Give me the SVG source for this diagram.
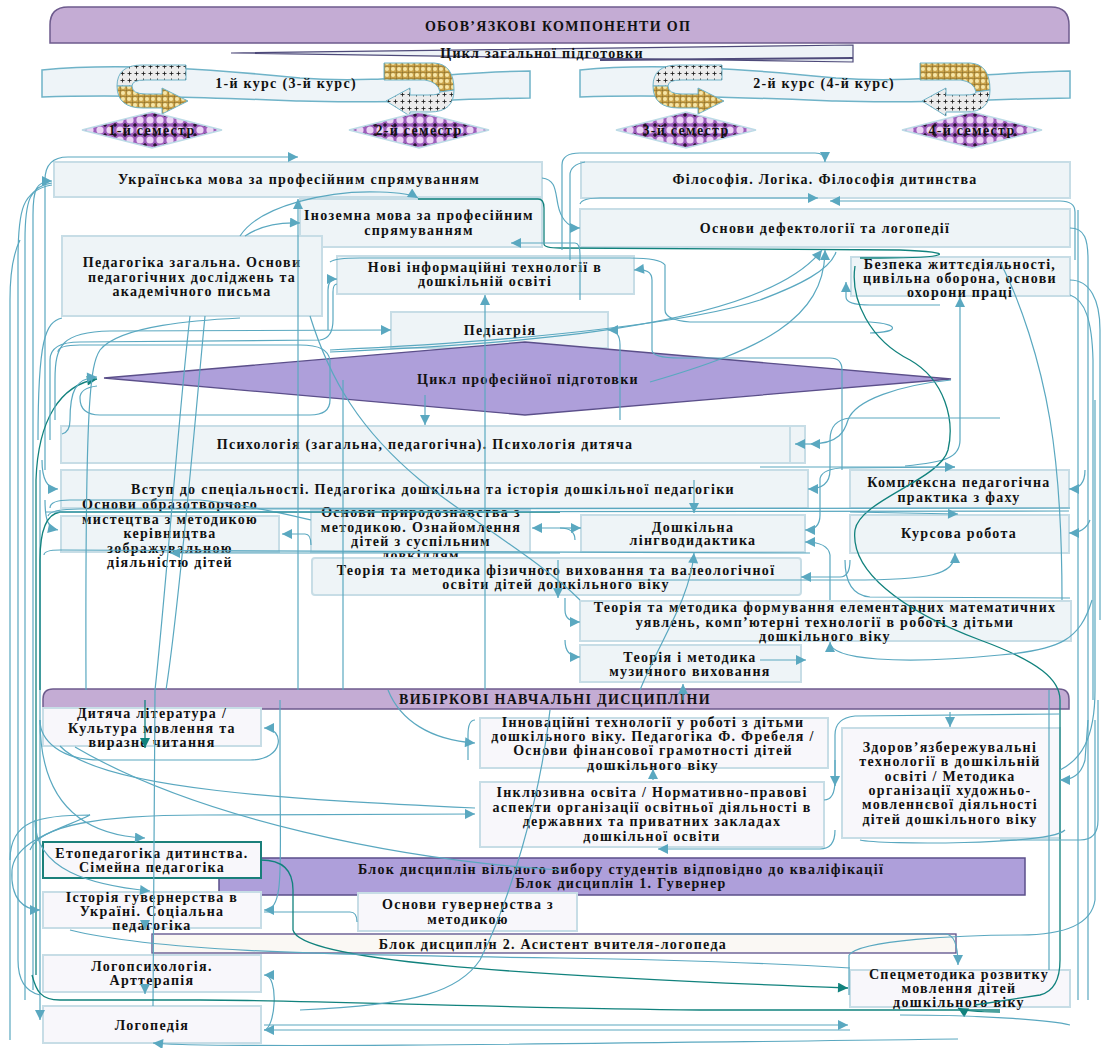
<svg xmlns="http://www.w3.org/2000/svg" width="1104" height="1048" viewBox="0 0 1104 1048">
<defs>
<style>
.t{font-family:"Liberation Serif","Times New Roman",serif;font-weight:bold;font-size:14px;fill:#111;text-anchor:middle;letter-spacing:1.3px}
.n{fill:#eef4f7;stroke:#c7dde6;stroke-width:2}
.e{fill:#f8f7fb;stroke:#c7dde6;stroke-width:2}
.c{fill:none;stroke:#5aa8c0;stroke-width:1.2}
.k{fill:none;stroke:#11827d;stroke-width:1.3}
.ae{marker-end:url(#a)}
.as{marker-start:url(#a)}
.ke{marker-end:url(#b)}
.ks{marker-start:url(#b)}
.rb{fill:#eef4f8;stroke:#6fb3c8;stroke-width:1.5}
.sm{fill:url(#pd);stroke:#bcdbe6;stroke-width:1.5}
</style>
<marker id="a" viewBox="0 0 10 10" refX="10" refY="5" markerUnits="userSpaceOnUse" markerWidth="12" markerHeight="10" orient="auto-start-reverse"><path d="M0,0 L10,5 L0,10 Z" fill="#5aa8c0"/></marker>
<marker id="b" viewBox="0 0 10 10" refX="10" refY="5" markerUnits="userSpaceOnUse" markerWidth="12" markerHeight="10" orient="auto-start-reverse"><path d="M0,0 L10,5 L0,10 Z" fill="#11827d"/></marker>
<pattern id="pd" width="10" height="10" patternUnits="userSpaceOnUse"><rect width="10" height="10" fill="#9d5cbb"/><circle cx="0" cy="0" r="3.6" fill="#ecd6f4"/><circle cx="10" cy="0" r="3.6" fill="#ecd6f4"/><circle cx="0" cy="10" r="3.6" fill="#ecd6f4"/><circle cx="10" cy="10" r="3.6" fill="#ecd6f4"/><path d="M3,5H7M5,3V7" stroke="#000" stroke-width="1"/></pattern>
<pattern id="py" width="6" height="6" patternUnits="userSpaceOnUse"><rect width="6" height="6" fill="#c9a24a"/><circle cx="3" cy="3" r="2" fill="#f6e6a8"/><path d="M0,0H6M0,0V6" stroke="#5a4514" stroke-width="0.6"/></pattern>
<pattern id="pg" width="7" height="7" patternUnits="userSpaceOnUse"><rect width="7" height="7" fill="#ececec"/><path d="M1.5,3.5H5.5M3.5,1.5V5.5" stroke="#111" stroke-width="0.8"/></pattern>
</defs>
<rect width="1104" height="1048" fill="#ffffff"/>

<g id="title">
<path d="M50,43 L50,25 Q50,7 68,7 L1051,7 Q1069,7 1069,25 L1069,43 Z" fill="#c4acd4" stroke="#6d5b8d" stroke-width="1.5"/>
<text class="t" x="558" y="31">ОБОВ’ЯЗКОВІ КОМПОНЕНТИ ОП</text>
</g>

<g id="cycle-general">
<path d="M231,53 L853,45 L853,62 Z" fill="#eef3f7" stroke="#4e4a7a" stroke-width="1.2"/>
<path d="M600,60 L853,58" stroke="#4e4a7a" stroke-width="2"/>
<text class="t" x="542" y="58">Цикл загальної підготовки</text>
</g>

<g id="course1">
<path class="rb" d="M42,70 C120,62 220,70 300,78 C380,84 450,72 530,71 L530,98 C450,99 390,104 300,101 C220,98 120,94 42,97 Z"/>
<path d="M186,65 L142,65 Q117,65 117,86 L132,86 Q132,80 145,80 L186,80 Z" fill="url(#pg)" stroke="#6fb3c8"/>
<path d="M117,86 Q117,108 143,108 L162,108 L162,114 L188,101 L162,88 L162,94 L146,94 Q132,94 132,86 Z" fill="url(#py)" stroke="#6fb3c8"/>
<path d="M384,63 L434,63 Q454,64 454,90 L440,92 Q438,82 425,80 L384,80 Z" fill="url(#py)" stroke="#6fb3c8"/>
<path d="M454,90 Q454,112 430,112 L410,112 L410,116 L386,101 L410,88 L410,95 L428,95 Q440,95 440,92 Z" fill="url(#pg)" stroke="#6fb3c8"/>
<text class="t" x="286" y="88">1-й курс (3-й курс)</text>
</g>
<g id="course2" transform="translate(536,0)">
<path class="rb" d="M44,70 C120,62 220,70 300,78 C380,84 450,72 534,71 L534,98 C450,99 390,104 300,101 C220,98 120,94 44,97 Z"/>
<path d="M186,65 L142,65 Q117,65 117,86 L132,86 Q132,80 145,80 L186,80 Z" fill="url(#pg)" stroke="#6fb3c8"/>
<path d="M117,86 Q117,108 143,108 L162,108 L162,114 L188,101 L162,88 L162,94 L146,94 Q132,94 132,86 Z" fill="url(#py)" stroke="#6fb3c8"/>
<path d="M384,63 L434,63 Q454,64 454,90 L440,92 Q438,82 425,80 L384,80 Z" fill="url(#py)" stroke="#6fb3c8"/>
<path d="M454,90 Q454,112 430,112 L410,112 L410,116 L386,101 L410,88 L410,95 L428,95 Q440,95 440,92 Z" fill="url(#pg)" stroke="#6fb3c8"/>
<text class="t" x="288" y="88">2-й курс (4-й курс)</text>
</g>

<g id="sem1"><path class="sm" d="M82,130 L152,112 L222,130 L152,148 Z"/><text class="t" x="152" y="135">1-й семестр</text></g>
<g id="sem2"><path class="sm" d="M349,130 L419,112 L489,130 L419,148 Z"/><text class="t" x="419" y="135">2-й семестр</text></g>
<g id="sem3"><path class="sm" d="M616,130 L686,112 L756,130 L686,148 Z"/><text class="t" x="686" y="135">3-й семестр</text></g>
<g id="sem4"><path class="sm" d="M902,130 L972,112 L1042,130 L972,148 Z"/><text class="t" x="972" y="135">4-й семестр</text></g>

<g id="ukr"><rect class="n" x="54" y="162" width="488" height="35"/><text class="t" x="299" y="184">Українська мова за професійним спрямуванням</text></g>
<g id="fil"><rect class="n" x="581" y="162" width="489" height="36"/><text class="t" x="825" y="184">Філософія. Логіка. Філософія дитинства</text></g>
<g id="inoz"><rect class="n" x="300" y="199" width="242" height="48"/><text class="t" x="419" y="220">Іноземна мова за професійним</text><text class="t" x="419" y="235">спрямуванням</text></g>
<g id="defekt"><rect class="n" x="580" y="209" width="490" height="38"/><text class="t" x="825" y="233">Основи дефектології та логопедії</text></g>
<g id="pedzag"><rect class="n" x="62" y="236" width="260" height="80"/><text class="t" x="192" y="267">Педагогіка загальна. Основи</text><text class="t" x="192" y="282">педагогічних досліджень та</text><text class="t" x="192" y="296">академічного письма</text></g>
<g id="novi"><rect class="n" x="337" y="256" width="297" height="38"/><text class="t" x="485" y="272">Нові інформаційні технології в</text><text class="t" x="485" y="286">дошкільній освіті</text></g>
<g id="bezp"><rect class="n" x="851" y="257" width="219" height="39"/><text class="t" x="960" y="269">Безпека життєдіяльності,</text><text class="t" x="960" y="283">цивільна оборона, основи</text><text class="t" x="960" y="297">охорони праці</text></g>
<g id="pediatr"><rect class="n" x="391" y="312" width="217" height="36"/><text class="t" x="500" y="335">Педіатрія</text></g>

<g id="cycle-prof">
<path d="M104,378 L525,342 L951,379 L525,415 Z" fill="#ae9fda" stroke="#5b4f8a" stroke-width="1.3"/>
<text class="t" x="528" y="384">Цикл професійної підготовки</text>
</g>

<g id="psych"><rect class="n" x="61" y="426" width="744" height="37"/><line x1="790" y1="427" x2="790" y2="462" stroke="#c7dde6" stroke-width="2"/><text class="t" x="425" y="449">Психологія (загальна, педагогічна). Психологія дитяча</text></g>
<g id="vstup"><rect class="n" x="61" y="470" width="747" height="38"/><text class="t" x="433" y="494">Вступ до спеціальності. Педагогіка дошкільна та історія дошкільної педагогіки</text></g>
<g id="obraz"><rect class="n" x="61" y="516" width="218" height="36"/><text class="t" x="170" y="509">Основи образотворчого</text><text class="t" x="170" y="524">мистецтва з методикою</text><text class="t" x="170" y="538">керівництва</text><text class="t" x="170" y="553">зображувальною</text><text class="t" x="170" y="567">діяльністю дітей</text></g>
<g id="pryr"><rect class="n" x="311" y="510" width="219" height="42"/><text class="t" x="421" y="517">Основи природознавства з</text><text class="t" x="421" y="532">методикою. Ознайомлення</text><text class="t" x="421" y="546">дітей з суспільним</text><text class="t" x="421" y="560">довкіллям</text></g>
<g id="lingvo"><rect class="n" x="581" y="515" width="224" height="37"/><text class="t" x="693" y="532">Дошкільна</text><text class="t" x="693" y="545">лінгводидактика</text></g>
<g id="kompl"><rect class="n" x="850" y="470" width="219" height="38"/><text class="t" x="959" y="487">Комплексна педагогічна</text><text class="t" x="959" y="502">практика з фаху</text></g>
<g id="kurs"><rect class="n" x="850" y="515" width="219" height="38"/><text class="t" x="959" y="538">Курсова робота</text></g>
<g id="fiz"><rect class="n" x="312" y="558" width="489" height="37" rx="3"/><text class="t" x="556" y="575">Теорія та методика фізичного виховання та валеологічної</text><text class="t" x="556" y="589">освіти дітей дошкільного віку</text></g>
<g id="femu"><rect class="n" x="580" y="601" width="491" height="40"/><text class="t" x="825" y="612">Теорія та методика формування елементарних математичних</text><text class="t" x="825" y="627">уявлень, комп’ютерні технології в роботі з дітьми</text><text class="t" x="825" y="641">дошкільного віку</text></g>
<g id="muz"><rect class="n" x="580" y="645" width="221" height="37"/><text class="t" x="690" y="662">Теорія і методика</text><text class="t" x="690" y="676">музичного виховання</text></g>

<g id="vybir">
<path d="M43,709 L43,699 Q43,689 53,689 L1059,689 Q1069,689 1069,699 L1069,709 Z" fill="#c4acd4" stroke="#6d5b8d" stroke-width="1.5"/>
<text class="t" x="555" y="704">ВИБІРКОВІ НАВЧАЛЬНІ ДИСЦИПЛІНИ</text>
</g>
<g id="dytlit"><rect class="e" x="43" y="708" width="218" height="38"/><text class="t" x="152" y="718">Дитяча література /</text><text class="t" x="152" y="733">Культура мовлення та</text><text class="t" x="152" y="747">виразне читання</text></g>
<g id="innov"><rect class="e" x="480" y="718" width="348" height="50"/><text class="t" x="653" y="727">Інноваційні технології у роботі з дітьми</text><text class="t" x="653" y="741">дошкільного віку. Педагогіка Ф. Фребеля /</text><text class="t" x="653" y="755">Основи фінансової грамотності дітей</text><text class="t" x="653" y="770">дошкільного віку</text></g>
<g id="inkl"><rect class="e" x="480" y="782" width="344" height="65"/><text class="t" x="652" y="797">Інклюзивна освіта / Нормативно-правові</text><text class="t" x="652" y="812">аспекти організації освітньої діяльності в</text><text class="t" x="652" y="826">державних та приватних закладах</text><text class="t" x="652" y="841">дошкільної освіти</text></g>
<g id="zdor"><rect class="e" x="842" y="728" width="218" height="110"/><text class="t" x="950" y="752">Здоров’язбережувальні</text><text class="t" x="950" y="766">технології в дошкільній</text><text class="t" x="950" y="781">освіті / Методика</text><text class="t" x="950" y="795">організації художньо-</text><text class="t" x="950" y="809">мовленнєвої діяльності</text><text class="t" x="950" y="824">дітей дошкільного віку</text></g>

<g id="blok1">
<rect x="219" y="858" width="806" height="37" fill="#ae9fda" stroke="#5b4f8a" stroke-width="1.5"/>
<text class="t" x="621" y="874">Блок дисциплін вільного вибору студентів відповідно до кваліфікації</text>
<text class="t" x="621" y="888">Блок дисциплін 1. Гувернер</text>
</g>
<g id="etoped"><rect x="43" y="842" width="218" height="36" fill="#f8f7fb" stroke="#1a7f7a" stroke-width="2"/><text class="t" x="152" y="858">Етопедагогіка дитинства.</text><text class="t" x="152" y="872">Сімейна педагогіка</text></g>
<g id="istor"><rect class="e" x="43" y="892" width="218" height="36"/><text class="t" x="152" y="902">Історія гувернерства в</text><text class="t" x="152" y="916">Україні. Соціальна</text><text class="t" x="152" y="930">педагогіка</text></g>
<g id="osnguv"><rect class="e" x="358" y="893" width="219" height="38"/><text class="t" x="468" y="909">Основи гувернерства з</text><text class="t" x="468" y="924">методикою</text></g>
<g id="blok2"><rect x="152" y="934" width="804" height="19" fill="#faf8f4" stroke="#5b4f8a" stroke-width="1.3"/><text class="t" x="553" y="949">Блок дисциплін 2. Асистент вчителя-логопеда</text></g>
<g id="logops"><rect class="e" x="43" y="955" width="218" height="37"/><text class="t" x="152" y="971">Логопсихологія.</text><text class="t" x="152" y="985">Арттерапія</text></g>
<g id="logoped"><rect class="e" x="43" y="1006" width="218" height="37"/><text class="t" x="152" y="1030">Логопедія</text></g>
<g id="specmet"><rect class="e" x="850" y="970" width="220" height="37"/><text class="t" x="959" y="979">Спецметодика розвитку</text><text class="t" x="959" y="993">мовлення дітей</text><text class="t" x="959" y="1007">дошкільного віку</text></g>

<g id="connectors">
<!-- left bundle -->
<path class="c as" d="M298,157 L68,157 Q45,157 45,180 L45,470"/>
<path class="c as" d="M52,181 C36,181 33,190 33,215 L33,990"/>
<path class="c" d="M52,183 C30,186 25,200 25,240 L25,1000"/>
<path class="c" d="M52,185 C22,190 18,210 18,260 L18,960 Q18,990 40,995"/>
<path class="c" d="M10,1040 L10,300 Q10,260 20,240"/>
<path class="c ae" d="M40,470 L40,1020"/>
<path class="k ks" d="M97,379 C60,385 38,420 36,480 L36,975"/>
<path class="c as" d="M97,377 C75,378 70,392 70,420 Q70,432 62,434"/>
<path class="c" d="M62,318 C45,322 38,340 38,440"/>
<path class="c" d="M240,318 C200,320 120,325 100,350 C90,365 85,400 86,690"/>
<path class="c as" d="M391,330 L110,331 C62,332 55,345 55,380 L55,420"/>
<path class="c" d="M50,440 L50,360 Q50,342 80,342 L320,340 Q333,338 333,320 L333,292 Q333,284 337,284"/>
<path class="c as" d="M337,279 Q328,279 328,290 L328,330"/>
<path class="c" d="M58,352 Q58,345 80,345 L300,345 C320,345 328,350 330,360 L330,400 Q330,415 310,415 L100,415 Q80,415 80,398 Q80,388 97,386"/>
<path class="c as" d="M58,489 C45,489 42,475 42,460"/>
<path class="c as" d="M58,530 C48,528 45,520 45,500"/>
<path class="c" d="M50,508 Q50,500 70,500 L200,500 C250,505 290,515 311,520"/>
<path class="k" d="M40,690 L40,560 Q40,515 60,512 L560,512"/>
<path class="c" d="M45,512 L1069,511"/>
<path class="c" d="M48,516 Q50,509 80,509 L1070,508"/>
<path class="c" d="M44,555 Q44,550 60,550 L810,553"/>
<path class="c as" d="M170,553 L560,553"/>
<!-- top area -->
<path class="c as" d="M580,228 C566,228 560,215 558,205 C555,190 556,180 542,178"/>
<path class="c ae" d="M240,236 C260,205 330,190 380,192 Q410,193 418,198"/>
<path class="c ae" d="M245,236 C260,226 280,222 300,223"/>
<path class="k" d="M418,199 L538,199 Q544,199 544,208 L544,244 Q544,248 560,248 L900,250 C960,252 950,258 880,258 L860,258"/>
<path class="c as" d="M511,243 L575,243 Q580,243 580,255 L580,300"/>
<path class="c ae" d="M562,250 L562,165 Q562,153 580,153 L815,153 Q825,153 825,162"/>
<path class="c" d="M570,260 L570,175 Q570,165 585,162"/>
<path class="c ae" d="M580,204 Q582,198 600,198 L818,198"/>
<path class="c ae" d="M1075,260 L1075,212 Q1075,201 1060,201 L830,201"/>
<path class="c ae" d="M330,352 C500,345 760,330 822,250"/>
<path class="c ae" d="M650,382 C760,350 825,320 825,250"/>
<path class="c" d="M330,350 C550,340 700,320 760,300 C800,285 830,270 836,252"/>
<path class="c" d="M1070,228 C1085,228 1088,240 1088,260 L1088,1000"/>
<path class="c" d="M1070,280 C1090,280 1100,300 1100,330 L1100,620"/>
<path class="c as" d="M846,282 L846,297 Q846,305 870,305 L940,305"/>
<path class="c as" d="M960,297 L960,440 C960,458 945,462 905,466"/>
<path class="c as" d="M485,295 L485,690"/>
<path class="c as" d="M634,270 Q652,268 652,280 L652,350 Q652,358 680,358 L830,358 Q842,358 842,370 L842,470"/>
<path class="c as" d="M608,330 Q620,330 620,345 L620,420"/>
<path class="c" d="M330,262 Q335,258 360,258 L630,258 Q660,258 665,265 L665,310 Q665,320 690,322 L870,322 C900,324 900,332 870,333"/>
<path class="c as" d="M298,199 L298,690"/>
<path class="c" d="M190,316 C180,400 165,600 155,690 L153,1006"/>
<path class="c" d="M205,316 C195,420 180,600 166,690"/>
<path class="c" d="M343,380 L343,690"/>
<path class="c ae" d="M425,395 L425,425"/>
<path class="c" d="M310,316 C330,380 360,430 420,480 C470,520 540,560 580,600"/>
<path class="c" d="M1000,262 C1020,300 1040,360 1050,420 C1060,480 1062,540 1062,600"/>
<path class="c" d="M1070,295 C1085,300 1092,320 1093,360 L1093,700"/>
<path class="k" d="M855,266 C850,300 870,340 910,360 C945,380 955,420 948,450 C940,480 860,500 855,530 C850,570 900,610 980,640 C1040,662 1060,680 1060,700 L1060,960 Q1060,990 1040,995 L975,1005"/>
<!-- middle right -->
<path class="c as" d="M810,444 C840,444 845,430 848,420 C855,400 900,385 951,380"/>
<path class="c as" d="M795,444 L810,444"/>
<path class="c as" d="M808,489 Q830,489 830,470 L830,440 Q830,420 850,418 L1000,418"/>
<path class="c as" d="M282,534 L305,534 Q311,534 311,545"/>
<path class="c as" d="M532,528 L560,528 Q575,528 575,540"/>
<path class="c ae" d="M560,528 L581,528"/>
<path class="c ae" d="M694,480 Q694,500 694,513"/>
<path class="c as" d="M694,553 C690,600 660,640 640,690"/>
<path class="c as" d="M805,530 Q820,530 820,515 L820,480 Q820,470 840,468 L955,467"/>
<path class="c as" d="M805,542 Q828,542 830,555 L830,600"/>
<path class="c ae" d="M850,512 L958,514"/>
<path class="c as" d="M955,553 C955,575 930,580 850,580 L620,580"/>
<path class="c ae" d="M760,467 L955,467"/>
<path class="c as" d="M1069,489 Q1085,489 1085,470"/>
<path class="c as" d="M1069,533 Q1085,533 1090,520"/>
<path class="c as" d="M801,577 L840,577 Q850,577 850,560"/>
<path class="c ae" d="M558,560 L558,598"/>
<path class="c as" d="M580,622 Q565,622 565,610 L565,598"/>
<path class="c as" d="M580,657 Q565,657 565,640"/>
<path class="c as" d="M830,642 C830,660 900,665 1000,655 C1060,650 1080,640 1092,600"/>
<path class="c ae" d="M760,660 L806,660"/>
<path class="c as" d="M683,684 L683,700"/>
<path class="c" d="M1078,210 L1078,1000"/>
<path class="c" d="M1095,400 L1095,690 C1095,740 1080,760 1060,770"/>
<path class="c" d="M845,560 Q845,595 870,597 L1070,598"/>
<!-- bottom area -->
<path class="c as" d="M264,728 C285,728 285,760 250,760 L100,760 C60,760 40,740 40,720"/>
<path class="k ke" d="M145,700 L145,748"/>
<path class="c ae" d="M40,720 C40,800 80,835 145,838"/>
<path class="c ae" d="M35,820 C35,870 90,885 150,891"/>
<path class="c ae" d="M10,860 C10,820 40,815 90,815 C60,830 15,840 12,870 C10,900 25,910 40,910"/>
<path class="c as" d="M264,910 C285,910 280,870 280,760 L280,700"/>
<path class="c" d="M264,912 L350,912 Q357,912 357,922"/>
<path class="c ae" d="M145,920 L145,930"/>
<path class="c as" d="M264,975 C280,975 275,1030 264,1030"/>
<path class="c ae" d="M145,985 L145,994"/>
<path class="c as" d="M264,1030 L850,1030"/>
<path class="c ae" d="M264,1025 L848,1025"/>
<path class="c as" d="M153,1043 C200,1048 500,1045 958,1039"/>
<path class="k" d="M32,975 C36,990 40,1000 60,1000 L200,1000 C300,1000 500,1008 700,1010 L1000,1010"/>
<path class="k ke" d="M1000,1012 Q965,1012 958,1008"/>
<path class="k ke" d="M261,860 Q293,860 293,890 L293,930 C300,960 500,975 848,988"/>
<path class="c ae" d="M680,934 L945,934 Q958,934 958,965"/>
<path class="c" d="M849,955 L849,995"/>
<path class="c" d="M1049,690 L1049,970"/>
<path class="c ae" d="M388,690 C400,720 430,740 475,743"/>
<path class="c" d="M475,720 Q468,720 468,735 L468,760"/>
<path class="c as" d="M653,769 L653,780"/>
<path class="c ae" d="M30,850 C40,825 100,815 200,815 L475,814"/>
<path class="c" d="M60,746 C100,790 300,800 475,808"/>
<path class="c as" d="M658,849 L820,849 Q835,849 835,830"/>
<path class="c" d="M824,800 Q835,800 835,780 L835,735 Q835,718 855,716 L1060,714"/>
<path class="c ae" d="M835,760 L835,786"/>
<path class="c as" d="M1060,780 Q1080,780 1085,760 L1088,720"/>
<path class="c as" d="M950,727 L950,712"/>
<path class="c" d="M75,747 C200,820 400,860 560,870"/>
<path class="c" d="M70,930 C150,950 300,955 560,958 C700,960 800,965 850,968"/>
<path class="c" d="M550,710 C540,800 510,900 480,960 C460,990 420,1005 300,1010"/>
<path class="c" d="M1000,840 L1080,840 Q1098,840 1098,820 L1098,700"/>
<path class="c" d="M860,840 C880,845 1050,845 1065,830"/>
<path class="c" d="M849,955 C860,940 960,935 1020,935 Q1090,935 1095,900 L1095,720"/>
<path class="c" d="M1070,1025 C1050,1020 980,1015 900,1015"/>
</g>
</svg>
